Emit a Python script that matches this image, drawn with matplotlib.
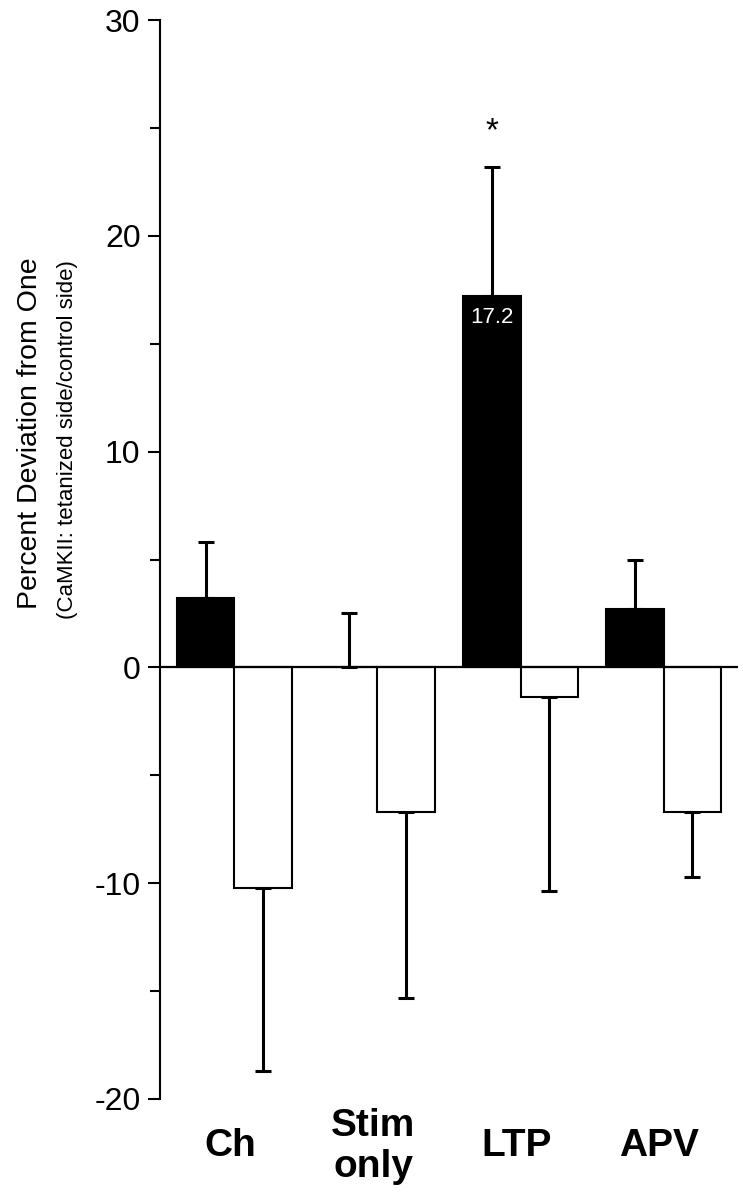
import numpy as np
import matplotlib
matplotlib.use("Agg")
import matplotlib.pyplot as plt
from matplotlib.ticker import MultipleLocator

# Datos
grupos = ["Ch", "Stim\nonly", "LTP", "APV"]
media_tetanizado = [3.2, 0.0, 17.2, 2.7]
error_tetanizado = [2.6, 2.5, 6.0, 2.3]
media_control = [-10.2, -6.7, -1.35, -6.7]
error_control = [8.5, 8.6, 9.0, 3.0]

plt.rcParams['font.family'] = ['Liberation Sans', 'DejaVu Sans']
plt.rcParams['axes.unicode_minus'] = False

fig = plt.figure(figsize=(7.43, 11.99), dpi=100)
ax = fig.add_axes([160 / 743, 1 - 1099 / 1199, (738 - 160) / 743, (1099 - 20) / 1199])

x = np.arange(len(grupos))
ancho = 0.4

ax.bar(x - ancho / 2, media_tetanizado, ancho, color="black", edgecolor="black", linewidth=1.5, zorder=2)
ax.bar(x + ancho / 2, media_control, ancho, color="white", edgecolor="black", linewidth=1.5, zorder=2)

# Barras de error de un solo lado (alejándose del cero)
for i in range(len(grupos)):
    ax.errorbar(x[i] - ancho / 2, media_tetanizado[i], yerr=[[0], [error_tetanizado[i]]],
                fmt="none", ecolor="black", elinewidth=2.2, capsize=6, capthick=2.2, zorder=1)
    ax.errorbar(x[i] + ancho / 2, media_control[i], yerr=[[error_control[i]], [0]],
                fmt="none", ecolor="black", elinewidth=2.2, capsize=6, capthick=2.2, zorder=1)

ax.axhline(0, color="black", linewidth=1.6, zorder=3)

# Valor y asterisco sobre LTP
ax.text(x[2] - ancho / 2, media_tetanizado[2] - 1.0, "17.2", color="white",
        ha="center", va="center", fontsize=16)
ax.text(x[2] - ancho / 2, 24.8, "*", color="black", ha="center", va="center", fontsize=24)

ax.set_xlim(-0.52, 3.52)
ax.set_ylim(-20, 30)
for lado in ["top", "right", "bottom"]:
    ax.spines[lado].set_visible(False)
ax.spines["left"].set_linewidth(1.5)

ax.yaxis.set_major_locator(MultipleLocator(10))
ax.yaxis.set_minor_locator(MultipleLocator(5))
ax.tick_params(axis="y", which="major", length=9, width=1.5, labelsize=23, pad=5)
ax.tick_params(axis="y", which="minor", length=7, width=1.5)
ax.set_xticks([])

# Etiquetas de los grupos
for i, nombre in enumerate(grupos):
    ax.text(x[i] - 0.03, -22.2, nombre, ha="center", va="center", fontsize=28,
            fontweight="bold", linespacing=1.2)

fig.text(30 / 743, 1 - 433 / 1199, "Percent Deviation from One", rotation=90,
         ha="center", va="center", fontsize=20.5)
fig.text(68 / 743, 1 - 440 / 1199, "(CaMKII: tetanized side/control side)", rotation=90,
         ha="center", va="center", fontsize=16)

fig.savefig("out.png", dpi=100)
